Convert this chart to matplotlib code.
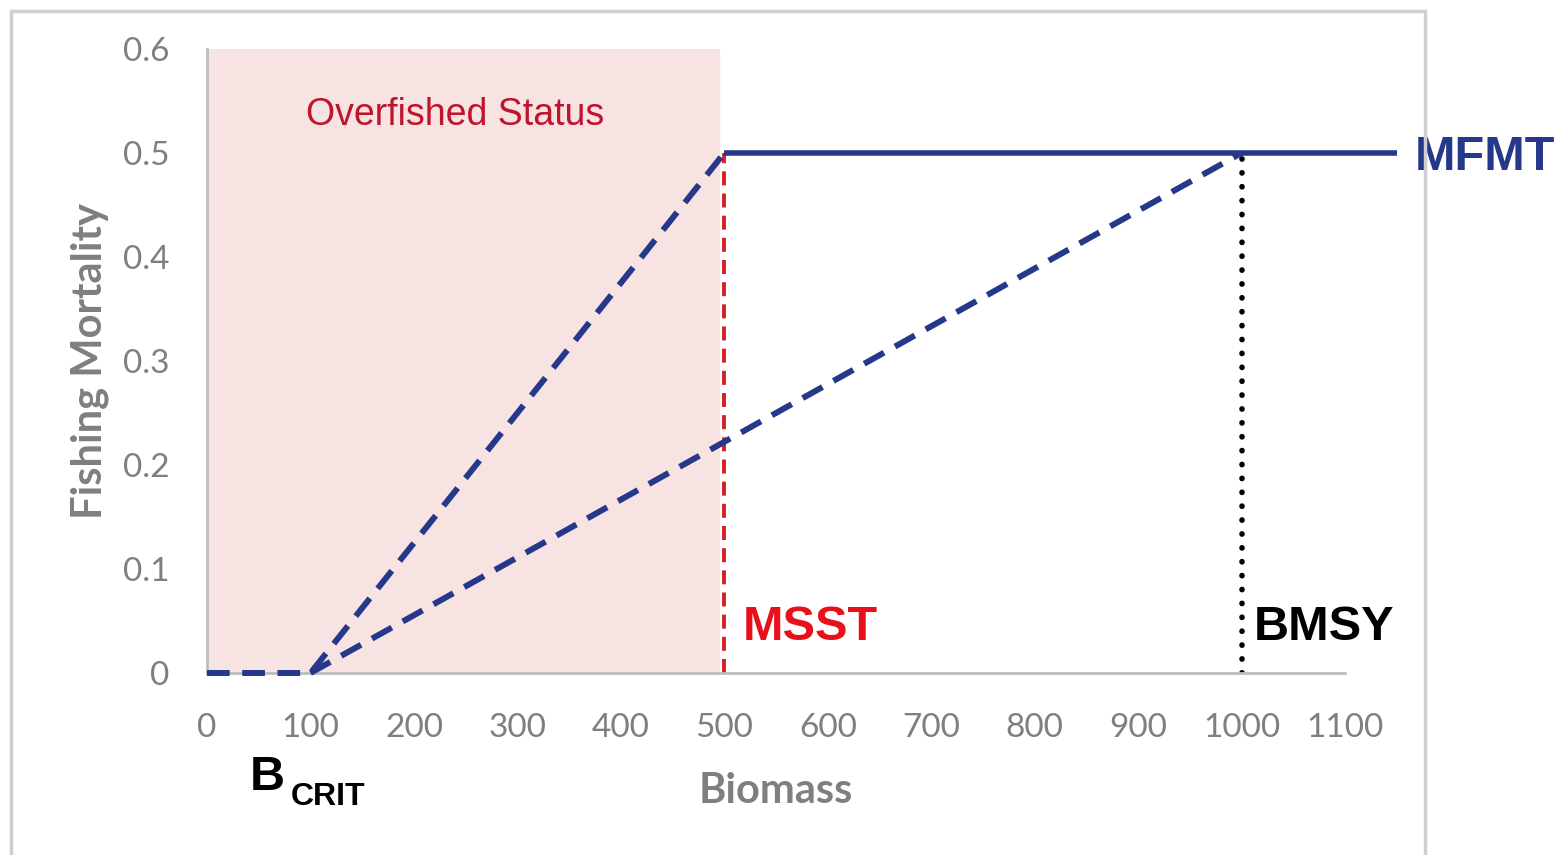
"""Harvest control rule sketch: fishing mortality vs biomass."""
import matplotlib
matplotlib.use("Agg")
import matplotlib.pyplot as plt
from matplotlib.patches import Rectangle

# ----------- data -----------
ramp_steep_x = [0, 100, 500]
ramp_steep_y = [0.0, 0.0, 0.5]
ramp_gentle_x = [100, 1000]
ramp_gentle_y = [0.0, 0.5]
mfmt_x = [500, 1150]
mfmt_y = [0.5, 0.5]
MSST = 500
BMSY = 1000
F_MAX = 0.5
overfished_span = (0, 495)

x_ticks = list(range(0, 1101, 100))
y_ticks = [0, 0.1, 0.2, 0.3, 0.4, 0.5, 0.6]
y_tick_labels = ["0", "0.1", "0.2", "0.3", "0.4", "0.5", "0.6"]

NAVY = "#26388a"
RED = "#d81e25"
GREY = "#7f7f7f"
SANS = "Liberation Sans"

fig = plt.figure(figsize=(15.65, 8.55), dpi=100)
ax = fig.add_axes([207 / 1565, 182 / 855, 1138 / 1565, 624 / 855])

# outer frame of the original slide graphic
fig.add_artist(Rectangle((11 / 1565, -0.05), 1414 / 1565, 1.05 - 11 / 855,
                         transform=fig.transFigure, fill=False,
                         edgecolor="#cfcfcf", linewidth=2.5))

ax.axvspan(*overfished_span, color="#f8e3e3", zorder=0)

dash_blue = (0, (3.8, 2.1))
ax.plot(ramp_steep_x, ramp_steep_y, color=NAVY, lw=4.3,
        linestyle=dash_blue, clip_on=False, zorder=3)
ax.plot(ramp_gentle_x, ramp_gentle_y, color=NAVY, lw=4.3,
        linestyle=dash_blue, clip_on=False, zorder=3)
ax.plot(mfmt_x, mfmt_y, color=NAVY, lw=4.0, solid_capstyle="butt",
        clip_on=False, zorder=3)
ax.plot([MSST, MSST], [0, F_MAX], color=RED, lw=2.8,
        linestyle=(0, (3.6, 2.1)), zorder=2)
ax.plot([BMSY, BMSY], [0, F_MAX], color="black", lw=4.0,
        linestyle=(0, (0.05, 2.45)), dash_capstyle="round", zorder=2)

ax.set_xlim(0, 1100)
ax.set_ylim(0, 0.6)
ax.set_xticks(x_ticks)
ax.set_yticks(y_ticks)
ax.set_yticklabels(y_tick_labels)
ax.tick_params(length=0, labelsize=24, labelcolor=GREY)
ax.tick_params(axis="x", pad=29)
ax.tick_params(axis="y", pad=27)
for lbl in ax.get_xticklabels() + ax.get_yticklabels():
    lbl.set_fontfamily("Lato")

for side in ("top", "right"):
    ax.spines[side].set_visible(False)
for side in ("left", "bottom"):
    ax.spines[side].set_color("#bdbdbd")
    ax.spines[side].set_linewidth(2)

ax.set_xlabel("Biomass", fontsize=30, fontweight="bold", color=GREY,
              family="Lato", labelpad=21)
ax.set_ylabel("Fishing Mortality", fontsize=30, fontweight="bold",
              color=GREY, family="Lato", labelpad=10)

ax.text(240, 0.537, "Overfished Status", color="#c0142c", fontsize=27,
        family=SANS, ha="center", va="center")
ax.text(518, 0.032, "MSST", color="#e8101a", fontsize=35, fontweight="bold",
        family=SANS, ha="left", va="baseline")
ax.text(1012, 0.032, "BMSY", color="black", fontsize=35, fontweight="bold",
        family=SANS, ha="left", va="baseline")
ax.text(1167, 0.496, "MFMT", color=NAVY, fontsize=35, fontweight="bold",
        family=SANS, ha="left", va="center", clip_on=False)
ax.text(41, -0.1125, "B", color="black", fontsize=35, fontweight="bold",
        family=SANS, ha="left", va="baseline", clip_on=False)
ax.text(81, -0.127, "CRIT", color="black", fontsize=23, fontweight="bold",
        family=SANS, ha="left", va="baseline", clip_on=False)

fig.savefig("out.png", dpi=100)
